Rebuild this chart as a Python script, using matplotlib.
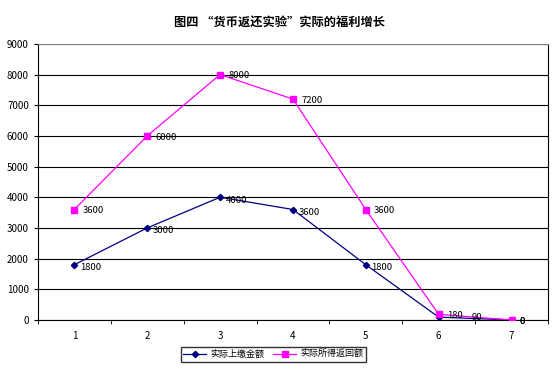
import matplotlib.pyplot as plt
from matplotlib.ticker import FixedLocator, NullFormatter

plt.rcParams['font.family'] = ['Noto Sans CJK SC', 'DejaVu Sans']

# 数据
categorias = ['1', '2', '3', '4', '5', '6', '7']
shangjiao = [1800, 3000, 4000, 3600, 1800, 90, 0]      # 实际上缴金额
fanhui = [3600, 6000, 8000, 7200, 3600, 180, 0]        # 实际所得返回额

fig = plt.figure(figsize=(5.58, 3.72), dpi=100)
ax = fig.add_axes([0.068, 0.14, 0.914, 0.742])

x = list(range(len(categorias)))
ax.plot(x, shangjiao, color='#000080', marker='D', markersize=3.2, linewidth=0.9,
        label='实际上缴金额', zorder=3)
ax.plot(x, fanhui, color='#FF00FF', marker='s', markersize=4.2, linewidth=0.9,
        label='实际所得返回额', zorder=3)

for xi, v in zip(x, shangjiao):
    desloc = (4, -2)
    if v == 90:
        desloc = (24, 0)
    if v == 0:
        desloc = (6, -1)
    ax.annotate(str(v), (xi, v), xytext=desloc, textcoords='offset points',
                fontsize=6.8, va='center', ha='left')
for xi, v in zip(x, fanhui):
    ax.annotate(str(v), (xi, v), xytext=(6, -1), textcoords='offset points',
                fontsize=6.8, va='center', ha='left')

ax.set_xlim(-0.5, 6.5)
ax.set_ylim(0, 9000)
ax.set_yticks(range(0, 9001, 1000))
ax.set_xticks(x)
ax.set_xticklabels(categorias)
ax.xaxis.set_minor_locator(FixedLocator([i + 0.5 for i in range(-1, 7)]))
ax.xaxis.set_minor_formatter(NullFormatter())
ax.tick_params(axis='x', which='major', length=0, pad=8, labelsize=7)
ax.tick_params(axis='x', which='minor', length=3, direction='out')
ax.tick_params(axis='y', length=3, labelsize=7)
ax.grid(axis='y', color='black', linewidth=0.8)
ax.set_axisbelow(True)
for s in ax.spines.values():
    s.set_linewidth(0.8)
ax.spines['top'].set_color('#808080')

fig.text(0.5, 0.94, '图四 “货币返还实验”实际的福利增长', ha='center', va='center',
         fontsize=8.8, fontweight='bold')

fig.legend(loc='lower center', bbox_to_anchor=(0.49, 0.015), ncol=2, fontsize=6.5,
           frameon=True, fancybox=False, edgecolor='black', handlelength=2.5,
           borderpad=0.3, columnspacing=1.0, handletextpad=0.5)

fig.savefig('out.png', dpi=100)
